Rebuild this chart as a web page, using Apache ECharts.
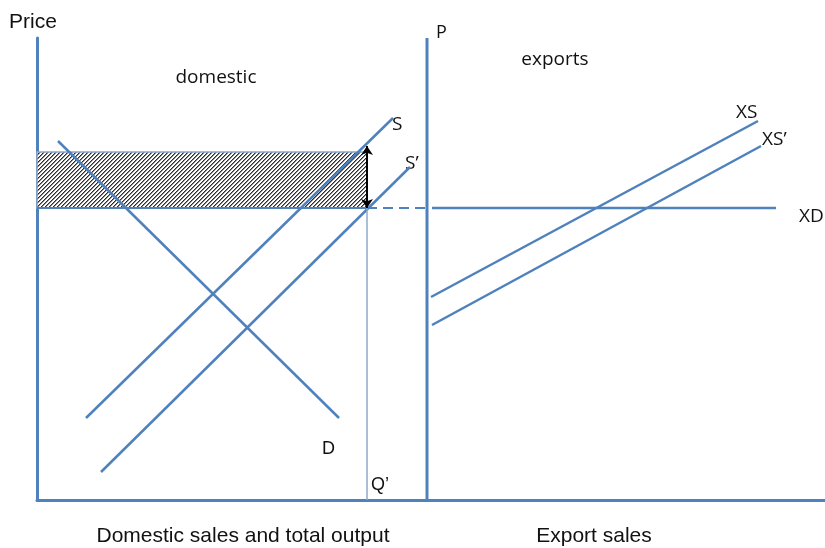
<!DOCTYPE html>
<html>
<head>
<meta charset="utf-8">
<script src="https://cdn.jsdelivr.net/npm/echarts@6/dist/echarts.min.js"></script>
<style>html,body{margin:0;padding:0;background:#fff}#c{width:825px;height:548px}</style>
</head>
<body>
<div id="c"></div>
<script>
// Diagram values (quantity on x, price on y; abstract units)
var xRange = [0, 78.8];
var yRange = [0, 46.2];
var exportAxisX = 39.0;
var demandD = [[2.1, 35.9], [30.2, 8.2]];
var supplyS = [[4.9, 8.2], [35.6, 38.2]];
var supplySPrime = [[6.4, 2.8], [37.3, 33.3]];
var exportSupplyXS = [[39.4, 20.3], [72.1, 37.9]];
var exportSupplyXSPrime = [[39.5, 17.5], [72.4, 35.4]];
var worldPrice = 29.2;
var supportPrice = 34.8;
var outputQ = 33.0;
var xdRange = [39.5, 73.9];
var dashRange = [33.0, 38.8];
var arrowRange = [29.2, 35.4];

var BLUE = '#4f81bd';
var chart = echarts.init(document.getElementById('c'));

// hatch pattern
var tile = document.createElement('canvas');
tile.width = 4; tile.height = 4;
var tc = tile.getContext('2d');
tc.fillStyle = '#fff'; tc.fillRect(0, 0, 4, 4);
tc.fillStyle = '#2b2b2b';
for (var i = 0; i < 4; i++) { tc.fillRect(i, 3 - i, 1, 1); tc.globalAlpha = 0.55; tc.fillRect((i + 1) % 4, 3 - i, 1, 1); tc.globalAlpha = 1; }

function seg(name, pts, opts) {
  opts = opts || {};
  return {
    type: 'line', name: name, data: pts, showSymbol: false, symbol: 'none', silent: true,
    z: opts.z || 3,
    lineStyle: { color: opts.color || BLUE, width: opts.width || 2.5, type: opts.type || 'solid' }
  };
}

var serif = 'Liberation Sans, Arial, sans-serif';
var cal = 'Open Sans, sans-serif';
function txt(t, x, y, font, size, align) {
  return { type: 'text', left: undefined, x: x, y: y, silent: true,
    style: { text: t, fill: '#111', font: size + 'px ' + font, textAlign: align || 'left', textVerticalAlign: 'middle' } };
}

chart.setOption({
  animation: false,
  grid: { left: 37, right: 0, top: 38, bottom: 48 },
  xAxis: { type: 'value', min: xRange[0], max: xRange[1], splitLine: { show: false }, axisTick: { show: false }, axisLabel: { show: false },
    axisLine: { show: true, lineStyle: { color: BLUE, width: 3 } } },
  yAxis: { type: 'value', min: yRange[0], max: yRange[1], splitLine: { show: false }, axisTick: { show: false }, axisLabel: { show: false },
    axisLine: { show: true, lineStyle: { color: BLUE, width: 3 } } },
  series: [
    {
      type: 'custom', silent: true, z: 1,
      data: [[0, worldPrice, outputQ, supportPrice]],
      renderItem: function (params, api) {
        var a = api.coord([api.value(0), api.value(3)]);
        var b = api.coord([api.value(2), api.value(1)]);
        return { type: 'rect', shape: { x: a[0], y: a[1], width: b[0] - a[0], height: b[1] - a[1] },
          style: { fill: { type: 'pattern', image: tile, repeat: 'repeat' }, stroke: '#8ea8cc', lineWidth: 1.5 } };
      }
    },
    seg('export axis', [[exportAxisX, yRange[0]], [exportAxisX, yRange[1]]], { width: 3 }),
    seg('D', demandD),
    seg('S', supplyS),
    seg("S'", supplySPrime),
    seg('XS', exportSupplyXS),
    seg("XS'", exportSupplyXSPrime),
    seg('XD', [[xdRange[0], worldPrice], [xdRange[1], worldPrice]]),
    seg('rect base', [[0, worldPrice], [outputQ, worldPrice]], { width: 2 }),
    seg('dash', [[dashRange[0], worldPrice], [dashRange[1], worldPrice]], { type: [10, 6], width: 2 }),
    seg("Q'", [[outputQ, 0], [outputQ, worldPrice]], { color: '#8ea8cc', width: 1.5 }),
    {
      type: 'lines', coordinateSystem: 'cartesian2d', silent: true, z: 5,
      symbol: ['arrow', 'arrow'], symbolSize: 9,
      lineStyle: { color: '#000', width: 2, opacity: 1 },
      data: [{ coords: [[outputQ, arrowRange[0]], [outputQ, arrowRange[1]]] }]
    }
  ],
  graphic: [
    txt('Price', 9, 22, serif, 21),
    txt('P', 436, 33, cal, 18),
    txt('domestic', 216, 78, cal, 19, 'center'),
    txt('exports', 555, 60, cal, 19, 'center'),
    txt('S', 392, 125, cal, 19),
    txt('S\u2019', 405, 164, cal, 19),
    txt('XS', 736, 113, cal, 19),
    txt('XS\u2019', 762, 140, cal, 19),
    txt('XD', 799, 217, cal, 19),
    txt('D', 322, 449, serif, 18),
    txt('Q\u2019', 371, 485, serif, 18),
    txt('Domestic sales and total output', 243, 536, serif, 21, 'center'),
    txt('Export sales', 594, 536, serif, 21, 'center')
  ]
});
</script>
</body>
</html>
